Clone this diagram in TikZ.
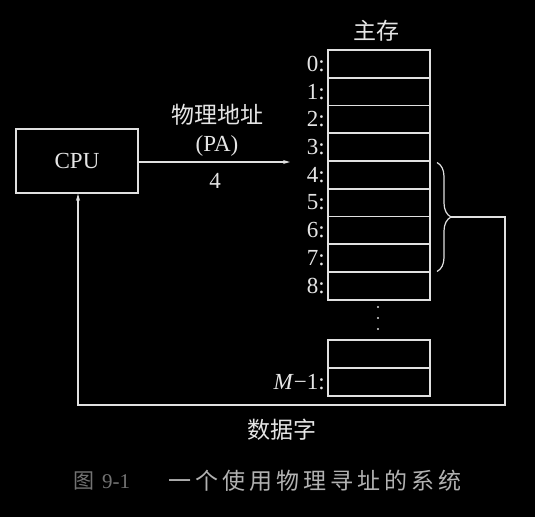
\documentclass[tikz,border=0pt]{standalone}
\usepackage{fontspec}
\setmainfont{Liberation Serif}
\newfontfamily\cjk{Noto Sans CJK SC}
\usetikzlibrary{arrows.meta,decorations.pathreplacing}
\begin{document}
\begin{tikzpicture}[x=1pt,y=-1pt,
  line/.style={draw=white!88!black,line width=1.6pt},
  cell/.style={line,minimum width=102pt,minimum height=27.75pt,inner sep=0pt,anchor=center},
  lab/.style={text=white!90!black,font=\fontsize{23}{26}\selectfont,inner sep=0pt},
  addr/.style={lab,anchor=east},
  tip/.style={-{Stealth[length=7pt,width=4pt]}}]
\useasboundingbox[fill=black] (0,0) rectangle (535,517);
% memory cells
\foreach \i in {0,...,8}{
  \node[cell] (c\i) at (379,{50+27.75*(\i+0.5)}) {};
  \node[addr] (l\i) at (325,{50+27.75*(\i+0.5)}) {\i:};
}
\node[cell] (cm2) at (379,354) {};
\node[cell] (cm1) at (379,382) {};
\node[addr] (lm1) at (325,382) {\textit{M}−1:};
\node[lab] (title) at (376,31) {\cjk 主存};
\foreach \y in {307,318,329}{\fill[white!85!black] (378,\y) circle (1.2pt);}
% CPU
\node[line,minimum width=122pt,minimum height=64pt,lab] (cpu) at (77,161) {CPU};
\coordinate (paend) at (290,162);
\draw[line,tip] (cpu.east |- paend) -- (paend);
\node[lab] (pa1) at (217,115) {\cjk 物理地址};
\node[lab] (pa2) at (217,146) {(PA)};
\node[lab] (pa3) at (215,181) {4};
% brace and return path
\draw[line,line width=1.2pt,decorate,decoration={brace,amplitude=14pt}] (437,162.5) -- (437,271.5);
\coordinate (btip) at (451,217);
\coordinate (r1) at (505,217);
\coordinate (r2) at (505,405);
\coordinate (r3) at (78,405);
\draw[line,tip] (btip) -- (r1) -- (r2) -- (r3) -- (cpu.south -| r3);
\node[lab] (word) at (282,430) {\cjk 数据字};
% caption
\node[text=white!45!black,font=\fontsize{21}{26}\selectfont,inner sep=0pt,anchor=west] (fig) at (73,481) {\cjk 图\kern8pt\rmfamily 9-1};
\node[text=white!70!black,font=\fontsize{23}{26}\selectfont,inner sep=0pt,anchor=west] (cap) at (168,481) {\cjk 一\kern4pt 个\kern4pt 使\kern4pt 用\kern4pt 物\kern4pt 理\kern4pt 寻\kern4pt 址\kern4pt 的\kern4pt 系\kern4pt 统};
\end{tikzpicture}
\end{document}
